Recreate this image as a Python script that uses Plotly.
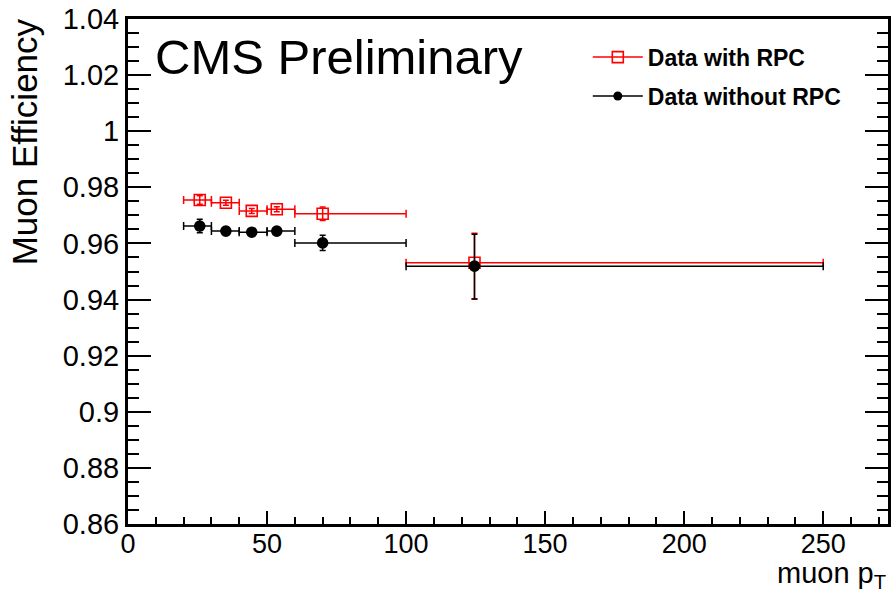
import plotly.graph_objects as go

# Data
bin_lo = [20, 30, 40, 50, 60, 100]
bin_hi = [30, 40, 50, 60, 100, 250]

x_rpc = [25.8, 35.2, 44.5, 53.5, 70.0, 124.6]
y_rpc = [0.9755, 0.9745, 0.9716, 0.9722, 0.9706, 0.9531]
ey_rpc_up = [0.0015, 0.0009, 0.0009, 0.0009, 0.0024, 0.0105]
ey_rpc_dn = [0.0015, 0.0009, 0.0009, 0.0009, 0.0024, 0.0129]

x_norpc = [25.8, 35.2, 44.5, 53.5, 70.0, 124.6]
y_norpc = [0.9662, 0.9644, 0.9640, 0.9644, 0.9602, 0.9519]
ey_norpc_up = [0.0024, 0.0008, 0.0008, 0.0012, 0.0027, 0.0114]
ey_norpc_dn = [0.0024, 0.0008, 0.0008, 0.0012, 0.0027, 0.0117]

FONT = "Liberation Sans, Arial, sans-serif"
RED = "rgb(255,0,0)"
BLACK = "rgb(0,0,0)"


def make_trace(x, y, eup, edn, color, symbol, size, name):
    return go.Scatter(
        x=x, y=y, mode="markers", showlegend=False, name=name,
        marker=dict(symbol=symbol, size=size, color=color,
                    line=dict(color=color, width=1.6)),
        error_x=dict(type="data", symmetric=False,
                     array=[h - xi for h, xi in zip(bin_hi, x)],
                     arrayminus=[xi - l for l, xi in zip(bin_lo, x)],
                     color=color, thickness=1.5, width=4),
        error_y=dict(type="data", symmetric=False, array=eup, arrayminus=edn,
                     color=color, thickness=1.5, width=3),
    )


fig = go.Figure()
fig.add_trace(make_trace(x_rpc, y_rpc, ey_rpc_up, ey_rpc_dn, RED, "square-open", 11, "Data with RPC"))
fig.add_trace(make_trace(x_norpc, y_norpc, ey_norpc_up, ey_norpc_dn, BLACK, "circle", 10, "Data without RPC"))

# legend entries
fig.add_trace(go.Scatter(x=[None], y=[None], mode="lines+markers", name="Data with RPC",
                         legendgroup="a",
                         line=dict(color=RED, width=1.5),
                         marker=dict(symbol="square-open", size=11, color=RED, line=dict(color=RED, width=1.6))))
fig.add_trace(go.Scatter(x=[None], y=[None], mode="lines+markers", name="Data without RPC",
                         legendgroup="b",
                         line=dict(color=BLACK, width=1.5),
                         marker=dict(symbol="circle", size=9, color=BLACK)))

fig.update_layout(
    width=893, height=595,
    margin=dict(l=128, r=2, t=19, b=71),
    paper_bgcolor="white", plot_bgcolor="white",
    font=dict(family=FONT, color="black"),
    legend=dict(x=0.605, y=0.967, xanchor="left", yanchor="top",
                font=dict(family=FONT, size=23, color="black", weight="bold"),
                bgcolor="rgba(0,0,0,0)", tracegroupgap=6, traceorder="grouped",
                itemwidth=50),
    xaxis=dict(range=[0, 273.3], showgrid=False, zeroline=False,
               showline=True, linewidth=3, linecolor="black", mirror=True,
               ticks="inside", ticklen=13, tickwidth=1.5, tickcolor="black",
               dtick=50, tick0=0, ticklabelstandoff=-6,
               minor=dict(dtick=10, ticklen=7, tickwidth=1.5, tickcolor="black", ticks="inside"),
               tickfont=dict(family=FONT, size=27, color="black")),
    yaxis=dict(range=[0.86, 1.04], showgrid=False, zeroline=False,
               showline=True, linewidth=3, linecolor="black", mirror="ticks",
               ticks="inside", ticklen=23, tickwidth=1.5, tickcolor="black",
               dtick=0.02, tick0=0.86, tickformat="~g",
               minor=dict(dtick=0.005, ticklen=11, tickwidth=1.5, tickcolor="black", ticks="inside"),
               tickfont=dict(family=FONT, size=29, color="black")),
)

fig.add_annotation(text="CMS Preliminary", xref="paper", yref="paper",
                   x=0.033, y=0.925, xanchor="left", yanchor="middle", showarrow=False,
                   font=dict(family=FONT, size=49, color="black"))
fig.add_annotation(text="Muon Efficiency", xref="paper", yref="paper",
                   x=-0.136, y=0.757, xanchor="center", yanchor="middle", showarrow=False,
                   textangle=-90, font=dict(family=FONT, size=35, color="black"))
fig.add_annotation(text="muon p<sub>T</sub>", xref="paper", yref="paper",
                   x=1.0, y=-0.1406, xanchor="right", yanchor="bottom", showarrow=False,
                   font=dict(family=FONT, size=29, color="black"))

fig.write_html("out.html")
